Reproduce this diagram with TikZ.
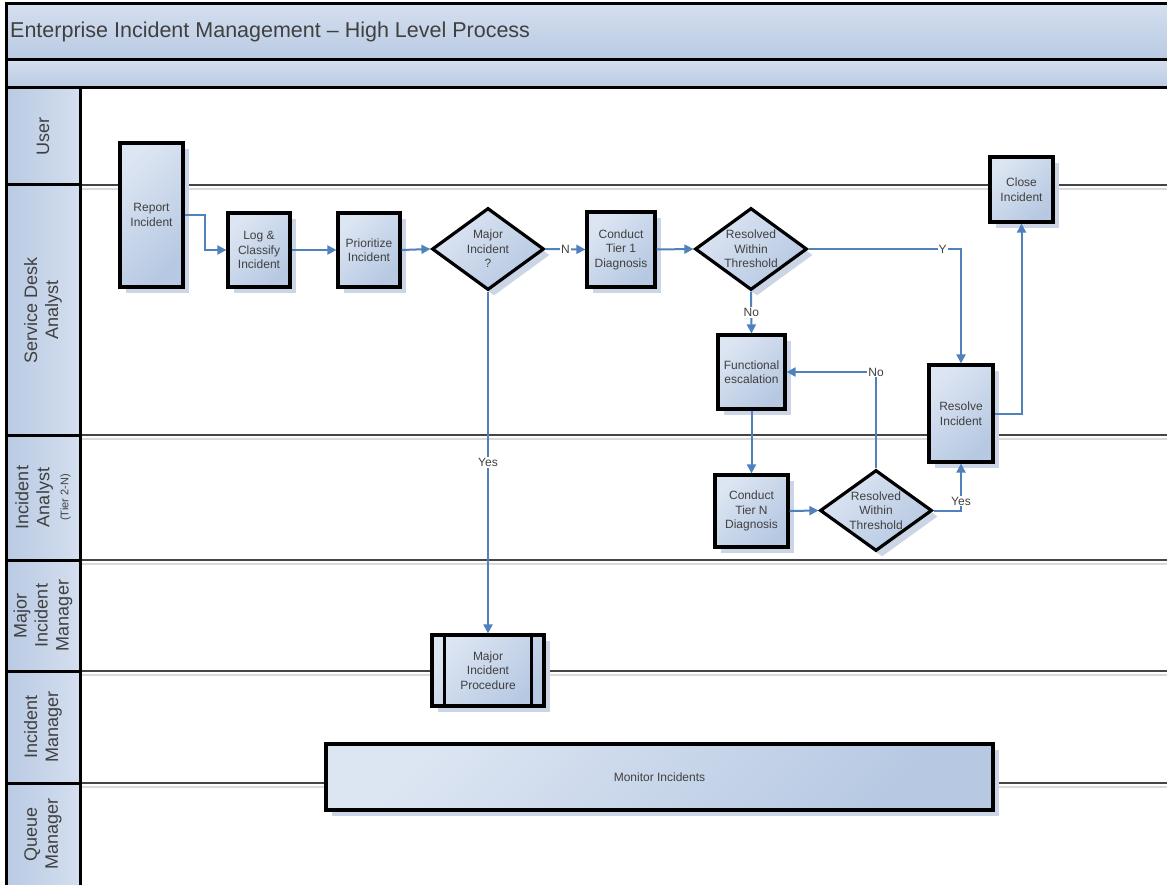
\documentclass[tikz,border=0pt]{standalone}
\usepackage{fontspec}
\setmainfont{Liberation Sans}
\usetikzlibrary{shapes.geometric,arrows.meta,shadows}
\definecolor{flow}{HTML}{4F81BD}
\definecolor{bandtop}{HTML}{D4DFEF}
\definecolor{bandbot}{HTML}{B9CAE3}
\definecolor{nodelight}{HTML}{DCE5F2}
\definecolor{nodedark}{HTML}{B6C8E2}
\definecolor{shadowc}{HTML}{CBD5E5}
\definecolor{txtc}{HTML}{404040}
\definecolor{lanedark}{HTML}{454545}
\definecolor{lanelight}{HTML}{DADADA}
\begin{document}
\begin{tikzpicture}[x=1pt,y=-1pt,
  nodefont/.style={font=\fontsize{12}{14.5}\selectfont, text=txtc},
  procbox/.style={draw=black, line width=3.2pt, top color=nodelight, bottom color=nodedark, shading angle=45,
    drop shadow={shadow xshift=6pt, shadow yshift=-6pt, fill=shadowc, opacity=1},
    inner sep=0pt, align=center, nodefont},
  decision/.style={diamond, draw=black, line width=3.2pt, top color=nodelight, bottom color=nodedark, shading angle=45,
    drop shadow={shadow xshift=6pt, shadow yshift=-6pt, fill=shadowc, opacity=1},
    inner sep=0pt, minimum width=112pt, minimum height=82pt},
  dtext/.style={align=center, nodefont, inner sep=0pt},
  flowarrow/.style={draw=flow, line width=2pt, -{Triangle[length=9pt,width=9pt]}},
  edgelabel/.style={fill=white, inner sep=1pt, font=\fontsize{12}{14}\selectfont, text=txtc},
  lanelabel/.style={rotate=90, align=center, font=\fontsize{18}{21}\selectfont, text=txtc, inner sep=0pt},
  framebold/.style={draw=black, line width=3pt},
]
\useasboundingbox (0,0) rectangle (1167,885);
\clip (0,0) rectangle (1167,885);
\fill[white] (0,0) rectangle (1167,885);

% bands
\shade[top color=bandtop, bottom color=bandbot] (6,4) rectangle (1180,60);
\shade[top color=bandtop, bottom color=bandbot] (6,60) rectangle (1180,88);
% lane header column
\foreach \ya/\yb in {88/185,185/435,435/560,560/671,671/783,783/900}
  \shade[left color=bandbot, right color=bandtop] (6,\ya) rectangle (80,\yb);

% content lane lines
\foreach \yy in {185,435,560,671,783}{
  \draw[lanelight, line width=1.5pt] (80,\yy+4) -- (1180,\yy+4);
  \draw[lanedark, line width=2pt] (80,\yy) -- (1180,\yy);
  \draw[framebold] (6,\yy) -- (80,\yy);
}
% frame
\draw[framebold] (1180,4) -- (6,4) -- (6,900);
\draw[framebold] (6,60) -- (1180,60);
\draw[framebold] (6,88) -- (1180,88);
\draw[framebold] (80,88) -- (80,900);

% title
\node[anchor=west, inner sep=0pt, font=\fontsize{21.5}{24}\selectfont, text=txtc] (title) at (10,32)
  {Enterprise Incident Management – High Level Process};

% lane labels
\node[lanelabel] (lUser) at (43,136.5) {User};
\node[lanelabel] (lSDA) at (43,310) {Service Desk\\Analyst};
\node[lanelabel] (lIA) at (43,497.5) {Incident\\Analyst\\[-2pt]{\fontsize{11}{12}\selectfont (Tier 2-N)}};
\node[lanelabel] (lMIM) at (43,615.5) {Major\\Incident\\Manager};
\node[lanelabel] (lIM) at (43,727) {Incident\\Manager};
\node[lanelabel] (lQM) at (43,834) {Queue\\Manager};

% process nodes
\node[procbox, minimum width=63pt, minimum height=144pt] (report) at (151.5,215) {Report\\Incident};
\node[procbox, minimum width=62pt, minimum height=74pt] (log) at (259,250) {Log \&\\Classify\\Incident};
\node[procbox, minimum width=62pt, minimum height=74pt] (prio) at (369,250) {Prioritize\\Incident};
\node[decision, label={[dtext]center:{Major\\Incident\\?}}] (major) at (488,249) {};
\node[procbox, minimum width=68pt, minimum height=75pt] (tier1) at (621,249.5) {Conduct\\Tier 1\\Diagnosis};
\node[decision, label={[dtext]center:{Resolved\\Within\\Threshold}}] (res1) at (751,249) {};
\node[procbox, minimum width=63pt, minimum height=65pt] (close) at (1021.5,189.5) {Close\\Incident};
\node[procbox, minimum width=67pt, minimum height=74pt] (func) at (751.5,372) {Functional\\escalation};
\node[procbox, minimum width=64pt, minimum height=97pt] (resolve) at (961,413.5) {Resolve\\Incident};
\node[procbox, minimum width=73pt, minimum height=72pt] (tierN) at (751.5,511) {Conduct\\Tier N\\Diagnosis};
\node[decision, minimum height=81pt, label={[dtext]center:{Resolved\\Within\\Threshold}}] (res2) at (876,510.5) {};
\node[procbox, minimum width=112pt, minimum height=71pt] (mip) at (488,670.5) {Major\\Incident\\Procedure};
\draw[black, line width=3pt] ([xshift=14pt]mip.north west) -- ([xshift=14pt]mip.south west);
\draw[black, line width=3pt] ([xshift=-14pt]mip.north east) -- ([xshift=-14pt]mip.south east);
\node[procbox, minimum width=667pt, minimum height=66pt] (monitor) at (659.5,777) {Monitor Incidents};

% connectors
\draw[flowarrow] (report.east) -- ++(20,0) |- (log.west);
\draw[flowarrow] (log.east) -- (prio.west);
\draw[flowarrow] (prio.east) -- (major.west);
\draw[flowarrow] (major.east) -- node[edgelabel]{N} (tier1.west);
\draw[flowarrow] (tier1.east) -- (res1.west);
\draw[flowarrow] (res1.east) -| node[edgelabel, pos=0.44]{Y} (resolve.north);
\draw[flowarrow] (resolve.east) -| (close.south);
\draw[flowarrow] (res1.south) -- node[edgelabel]{No} (func.north);
\draw[flowarrow] (func.south) -- (tierN.north);
\draw[flowarrow] (tierN.east) -- (res2.west);
\draw[flowarrow] (res2.north) |- node[edgelabel, pos=0.5]{No} (func.east);
\draw[flowarrow] (res2.east) -| node[edgelabel, pos=0.6]{Yes} (resolve.south);
\draw[flowarrow] (major.south) -- node[edgelabel, pos=0.5]{Yes} (mip.north);
\end{tikzpicture}
\end{document}
